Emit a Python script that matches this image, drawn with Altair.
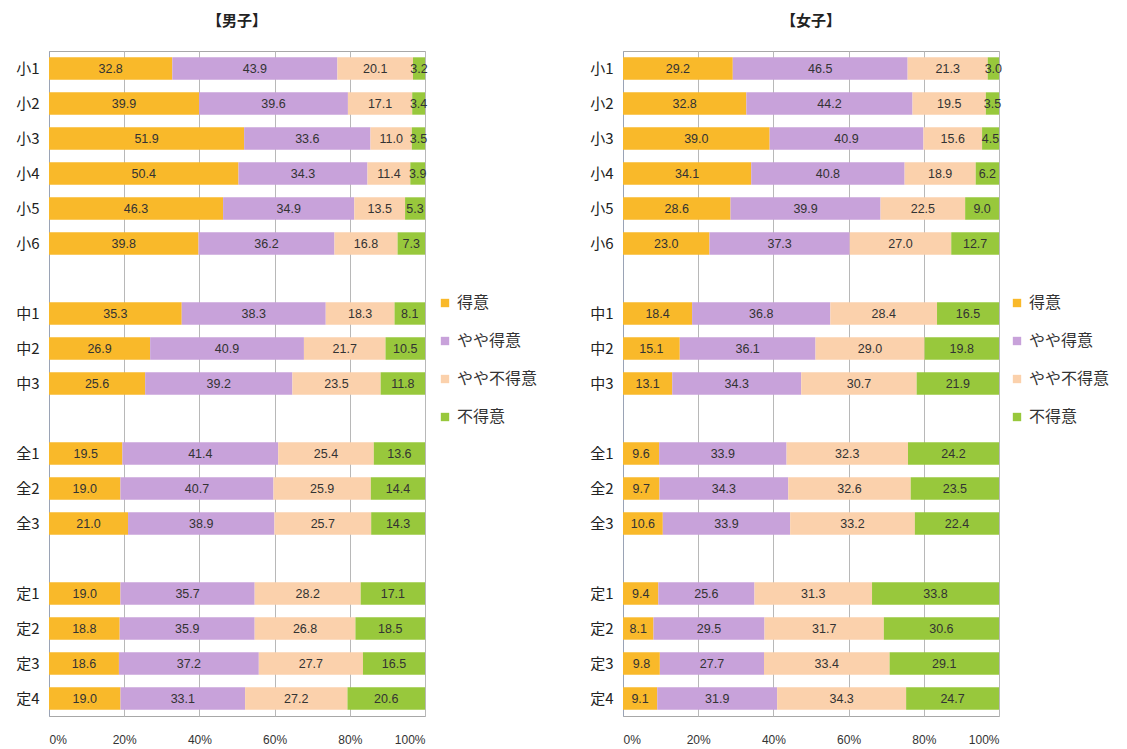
import altair as alt
import pandas as pd

categories = ["小1", "小2", "小3", "小4", "小5", "小6",
              "中1", "中2", "中3",
              "全1", "全2", "全3",
              "定1", "定2", "定3", "定4"]
row_order = ["小1", "小2", "小3", "小4", "小5", "小6", "gap1",
             "中1", "中2", "中3", "gap2",
             "全1", "全2", "全3", "gap3",
             "定1", "定2", "定3", "定4"]
responses = ["得意", "やや得意", "やや不得意", "不得意"]
colors = ["#F9B92A", "#C8A2DA", "#FBD1AC", "#98C83C"]

boys_tokui = [32.8, 39.9, 51.9, 50.4, 46.3, 39.8, 35.3, 26.9, 25.6, 19.5, 19.0, 21.0, 19.0, 18.8, 18.6, 19.0]
boys_yaya_tokui = [43.9, 39.6, 33.6, 34.3, 34.9, 36.2, 38.3, 40.9, 39.2, 41.4, 40.7, 38.9, 35.7, 35.9, 37.2, 33.1]
boys_yaya_futokui = [20.1, 17.1, 11.0, 11.4, 13.5, 16.8, 18.3, 21.7, 23.5, 25.4, 25.9, 25.7, 28.2, 26.8, 27.7, 27.2]
boys_futokui = [3.2, 3.4, 3.5, 3.9, 5.3, 7.3, 8.1, 10.5, 11.8, 13.6, 14.4, 14.3, 17.1, 18.5, 16.5, 20.6]

girls_tokui = [29.2, 32.8, 39.0, 34.1, 28.6, 23.0, 18.4, 15.1, 13.1, 9.6, 9.7, 10.6, 9.4, 8.1, 9.8, 9.1]
girls_yaya_tokui = [46.5, 44.2, 40.9, 40.8, 39.9, 37.3, 36.8, 36.1, 34.3, 33.9, 34.3, 33.9, 25.6, 29.5, 27.7, 31.9]
girls_yaya_futokui = [21.3, 19.5, 15.6, 18.9, 22.5, 27.0, 28.4, 29.0, 30.7, 32.3, 32.6, 33.2, 31.3, 31.7, 33.4, 34.3]
girls_futokui = [3.0, 3.5, 4.5, 6.2, 9.0, 12.7, 16.5, 19.8, 21.9, 24.2, 23.5, 22.4, 33.8, 30.6, 29.1, 24.7]

FONT = "Noto Sans CJK JP"


def build_df(series):
    rows = []
    for ri, (resp, vals) in enumerate(zip(responses, series)):
        for cat, v in zip(categories, vals):
            rows.append({"cat": cat, "resp": resp, "ri": ri, "value": v})
    return pd.DataFrame(rows)


def panel(title, series, legend_x):
    df = build_df(series)
    base = alt.Chart(df).transform_stack(
        stack="value", groupby=["cat"], as_=["v0", "v1"],
        sort=[alt.SortField("ri", order="ascending")], offset="normalize"
    )
    y = alt.Y("cat:N", sort=row_order, scale=alt.Scale(domain=row_order, paddingInner=0.36, paddingOuter=0.18),
              axis=alt.Axis(title=None, labelExpr="indexof(datum.label, 'gap') == 0 ? '' : datum.label",
                            labelFont=FONT, labelFontSize=15, labelColor="#222", labelPadding=10,
                            ticks=False, domain=True, domainColor="#9AA3B5", grid=False))
    bars = base.mark_bar().encode(
        x=alt.X("v0:Q", scale=alt.Scale(domain=[0, 1], nice=False),
                axis=alt.Axis(title=None, format="%", values=[0, 0.2, 0.4, 0.6, 0.8, 1.0],
                              labelFont="Liberation Sans", labelFontSize=12, labelColor="#333",
                              labelPadding=18, ticks=False, domain=False,
                              grid=True, gridColor="#B8B8B8", gridWidth=1)),
        x2="v1:Q",
        y=y,
        color=alt.Color("resp:N", sort=responses,
                        scale=alt.Scale(domain=responses, range=colors),
                        legend=alt.Legend(title=None, orient="none", legendX=legend_x, legendY=244,
                                          symbolType="square", symbolSize=70, symbolStrokeWidth=0,
                                          labelFont=FONT, labelFontSize=16, labelColor="#333",
                                          rowPadding=22, labelOffset=4)),
    )
    text = base.transform_calculate(mid="(datum.v0 + datum.v1) / 2").mark_text(
        font="Liberation Sans", fontSize=12.5, color="#333"
    ).encode(
        x="mid:Q",
        y=alt.Y("cat:N", sort=row_order),
        text=alt.Text("value:Q", format=".1f"),
    )
    return alt.layer(bars, text).properties(
        width=376, height=665,
        title=alt.TitleParams(title, font=FONT, fontSize=15, fontWeight="bold", color="#222", offset=22),
    )


left = panel("【男子】", [boys_tokui, boys_yaya_tokui, boys_yaya_futokui, boys_futokui], 388)
right = panel("【女子】", [girls_tokui, girls_yaya_tokui, girls_yaya_futokui, girls_futokui], 386)

chart = alt.hconcat(left, right, spacing=50).resolve_scale(color="independent").configure_view(
    stroke="#A8A8A8", strokeWidth=1
).properties(padding={"left": 7, "top": 5, "right": 0, "bottom": 0})

chart.save("out.html", embed_options={"renderer": "svg", "actions": False})
